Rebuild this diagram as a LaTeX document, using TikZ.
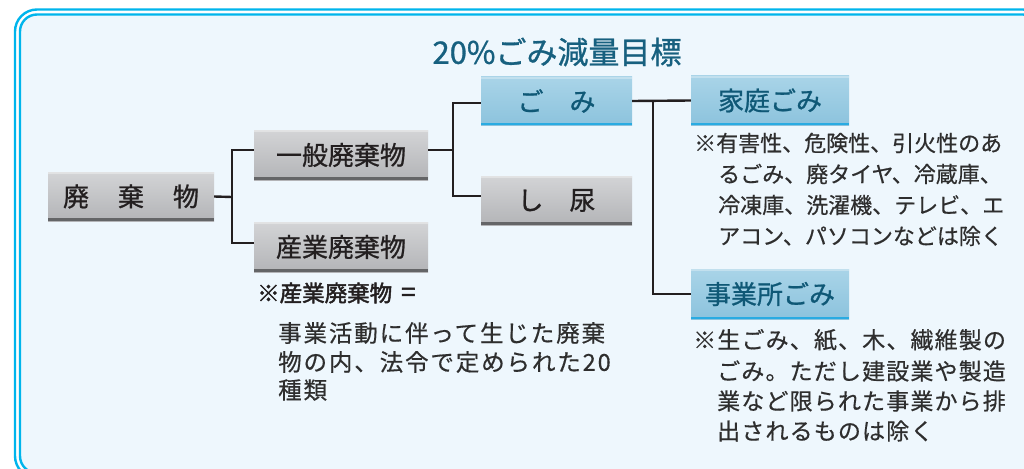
\documentclass[tikz,border=0pt]{standalone}
\usepackage{fontspec}
\newfontfamily\jp{Noto Sans CJK JP}[AutoFakeBold=2]
\newfontfamily\jpm{Noto Sans CJK JP}[FakeBold=0.9]
\newfontfamily\jpn{Noto Sans CJK JP}[FakeBold=0.5]
\usetikzlibrary{calc}
\definecolor{framec}{HTML}{00B5EC}
\definecolor{bgc}{HTML}{EEF7FD}
\definecolor{ink}{HTML}{231F20}
\definecolor{notec}{HTML}{2E2E2E}
\definecolor{titlec}{HTML}{17607F}
\definecolor{bluetext}{HTML}{0F5876}
\definecolor{gtop}{HTML}{D3D4D6}
\definecolor{gmid}{HTML}{BEBFC1}
\definecolor{gbot}{HTML}{B3B4B7}
\definecolor{gdark}{HTML}{646567}
\definecolor{btop}{HTML}{A9D4E8}
\definecolor{bmid}{HTML}{95C8E0}
\definecolor{bbot}{HTML}{8CC3DD}
\definecolor{bdark}{HTML}{29ABE2}
\tikzset{
  gbox/.style={draw=none, inner sep=0pt, top color=gtop, middle color=gmid, bottom color=gbot,
    text=ink, font=\jpm\fontsize{26}{30}\selectfont,
    path picture={\fill[gdark] (path picture bounding box.south west) rectangle ([yshift=3.5pt]path picture bounding box.south east);
      \fill[white, opacity=0.35] (path picture bounding box.north west) rectangle ([yshift=-2pt]path picture bounding box.north east);}},
  bbox/.style={draw=none, inner sep=0pt, top color=btop, middle color=bmid, bottom color=bbot,
    text=bluetext, font=\jpm\fontsize{26}{30}\selectfont,
    path picture={\fill[bdark] (path picture bounding box.south west) rectangle ([yshift=2.5pt]path picture bounding box.south east);
      \fill[white, opacity=0.3] (path picture bounding box.north west) rectangle ([yshift=-2pt]path picture bounding box.north east);}},
  conn/.style={draw=ink, line width=2.4pt},
  notetext/.style={anchor=west, inner sep=0pt, text=notec, font=\jpn\fontsize{22}{26}\selectfont},
}
\begin{document}
\begin{tikzpicture}[x=1pt,y=-1pt]
\useasboundingbox (0,0) rectangle (1024,468);
\clip (0,0) rectangle (1024,468);
\fill[white] (0,0) rectangle (1024,468);
% frame
\draw[framec, line width=2.4pt, rounded corners=22pt] (15,9.5) rectangle (1045,478);
\draw[framec, line width=2.4pt, fill=bgc, rounded corners=17pt] (20,14.5) rectangle (1040,473);

% title
\node[inner sep=0pt, text=titlec, font=\jpm\fontsize{31}{34}\selectfont] (title) at (557,52) {20\%ごみ減量目標};

% boxes
\node[gbox, minimum width=166pt, minimum height=49pt] (haiki) at (131,196.5) {廃\hspace{29pt}棄\hspace{29pt}物};
\node[gbox, minimum width=174pt, minimum height=50pt] (ippan) at (341,155) {一般廃棄物};
\node[gbox, minimum width=174pt, minimum height=50pt] (sangyo) at (341,247) {産業廃棄物};
\node[bbox, minimum width=151pt, minimum height=48pt] (gomi) at (556.5,101) {ご\hspace{26pt}み};
\node[gbox, minimum width=151pt, minimum height=49pt] (shinyo) at (556.5,200.5) {し\hspace{26pt}尿};
\node[bbox, minimum width=158pt, minimum height=49pt] (katei) at (770,100.5) {家庭ごみ};
\node[bbox, minimum width=158pt, minimum height=50pt] (jigyo) at (770,294) {事業所ごみ};

% connectors
\coordinate (b1) at (232,197);
\coordinate (b2) at (453,150);
\coordinate (b3) at (653,101);
\draw[conn] (haiki.east) -- (b1);
\draw[conn] ([yshift=5pt]ippan.west) -| (b1) |- ([yshift=4pt]sangyo.west);
\draw[conn] ([yshift=5pt]ippan.east) -- (b2);
\draw[conn] ([yshift=-2pt]gomi.west) -| (b2) |- ([yshift=4.5pt]shinyo.west);
\draw[conn] (gomi.east) -- (katei.west);
\draw[conn] (b3) |- (jigyo.west);

% notes right 1
\node[notetext] (n1a) at (694,143) {※有害性、危険性、引火性のあ};
\node[notetext] (n1b) at (718,174) {るごみ、廃タイヤ、冷蔵庫、};
\node[notetext] (n1c) at (718,205) {冷凍庫、洗濯機、テレビ、エ};
\node[notetext] (n1d) at (718,236) {アコン、パソコンなどは除く};

% notes right 2
\tikzset{note2/.style={notetext, font=\jpn\fontsize{23}{27}\selectfont\addfontfeature{LetterSpace=5}}}
\node[note2] (n2a) at (693,340) {※生ごみ、紙、木、繊維製の};
\node[note2] (n2b) at (717,371) {ごみ。ただし建設業や製造};
\node[note2] (n2c) at (717,401) {業など限られた事業から排};
\node[note2] (n2d) at (717,431) {出されるものは除く};

% notes left
\tikzset{note3/.style={notetext, font=\jpn\fontsize{23.5}{27}\selectfont\addfontfeature{LetterSpace=8}}}
\node[notetext, text=ink, font=\jp\bfseries\fontsize{22.5}{26}\selectfont] (n3a) at (257,293) {※産業廃棄物\hspace{9pt}{\fontsize{26}{26}\selectfont =}};
\node[note3] (n3b) at (278,333) {事業活動に伴って生じた廃棄};
\node[note3] (n3c) at (278,362) {物の内、法令で定められた20};
\node[note3] (n3d) at (278,390) {種類};
\end{tikzpicture}
\end{document}
